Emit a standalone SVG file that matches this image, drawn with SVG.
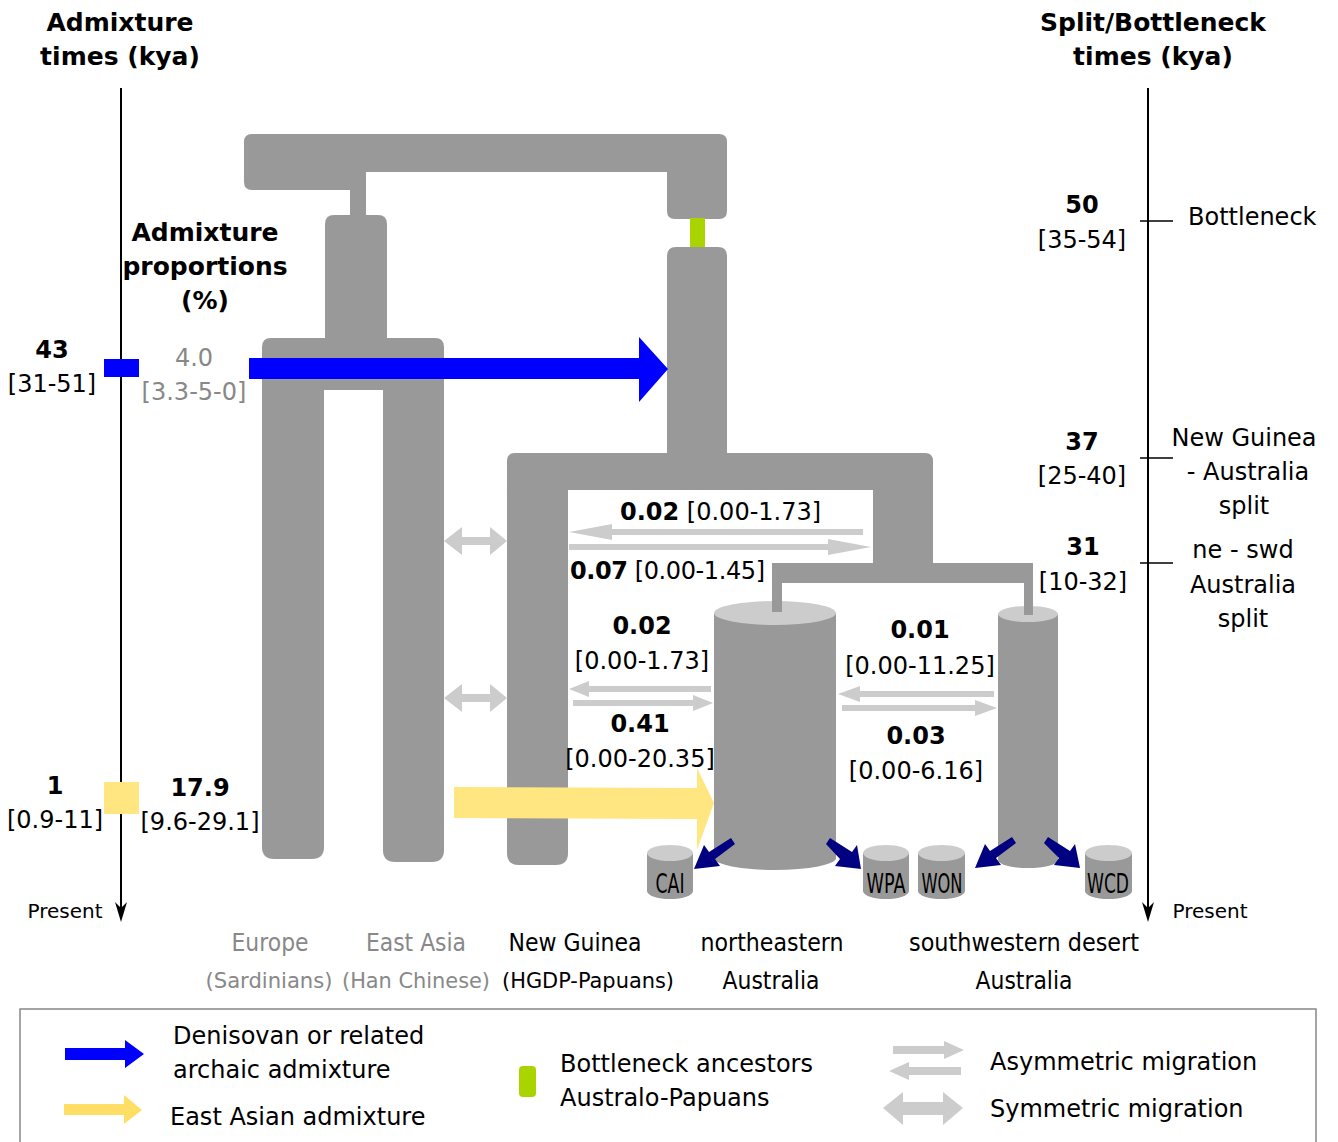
<svg xmlns="http://www.w3.org/2000/svg" width="1338" height="1142" viewBox="0 0 1338 1142">
<defs>
<style>
text{font-family:"DejaVu Sans","Liberation Sans",sans-serif;fill:#000}
.t{font-size:25px;font-weight:bold;text-anchor:middle}
.b{font-size:24px;font-weight:bold;text-anchor:middle}
.r{font-size:24px;text-anchor:middle}
.s{font-size:24px}
.g{fill:#888888}
.lab{font-size:25px;text-anchor:middle}
.lab2{font-size:21px;text-anchor:middle}
.cyl{font-size:27px;text-anchor:middle}
.pop{fill:#999999}
.cap{fill:#cccccc}
.mig{fill:#cccccc}
.nav{fill:#000080}
.axis{stroke:#000;stroke-width:2;fill:none}
.tick{stroke:#000;stroke-width:1.5}
</style>
</defs>
<rect width="1338" height="1142" fill="#fff"/>

<!-- axes -->
<g id="axes">
<line class="axis" x1="121" y1="88" x2="121" y2="918"/>
<path d="M115,902 L121,922 L127,902 L121,908 Z" fill="#000"/>
<line class="axis" x1="1148" y1="88" x2="1148" y2="918"/>
<path d="M1142,902 L1148,922 L1154,902 L1148,908 Z" fill="#000"/>
<line class="tick" x1="1140" y1="221" x2="1173" y2="221"/>
<line class="tick" x1="1140" y1="458" x2="1173" y2="458"/>
<line class="tick" x1="1140" y1="563" x2="1173" y2="563"/>
<text class="t" x="120" y="31">Admixture</text>
<text class="t" x="120" y="65">times (kya)</text>
<text class="t" x="1153" y="31">Split/Bottleneck</text>
<text class="t" x="1153" y="65">times (kya)</text>
<text class="t" x="205" y="241">Admixture</text>
<text class="t" x="205" y="275">proportions</text>
<text class="t" x="205" y="309">(%)</text>
<text style="font-size:20px;text-anchor:middle" x="65" y="918">Present</text>
<text style="font-size:20px;text-anchor:middle" x="1210" y="918">Present</text>
<text class="b" x="52" y="358">43</text>
<text class="r" x="52" y="392">[31-51]</text>
<text class="r g" x="194" y="366">4.0</text>
<text class="r g" x="194" y="400">[3.3-5-0]</text>
<text class="b" x="55" y="794">1</text>
<text class="r" x="55" y="828">[0.9-11]</text>
<text class="b" x="200" y="796">17.9</text>
<text class="r" x="200" y="830">[9.6-29.1]</text>
<text class="b" x="1082" y="213">50</text>
<text class="r" x="1082" y="248">[35-54]</text>
<text class="s" x="1188" y="225">Bottleneck</text>
<text class="b" x="1082" y="450">37</text>
<text class="r" x="1082" y="484">[25-40]</text>
<text class="r" x="1244" y="446">New Guinea</text>
<text class="r" x="1248" y="480">- Australia</text>
<text class="r" x="1244" y="514">split</text>
<text class="b" x="1083" y="555">31</text>
<text class="r" x="1083" y="590">[10-32]</text>
<text class="r" x="1243" y="558">ne - swd</text>
<text class="r" x="1243" y="593">Australia</text>
<text class="r" x="1243" y="627">split</text>
<rect x="104" y="359" width="35" height="18" fill="#0000ff"/>
<rect x="104" y="782" width="35" height="32" fill="#ffe680"/>
</g>

<!-- ancestral populations -->
<g id="ancestor-root">
<path class="pop" d="M252,134 H719 Q727,134 727,142 V211 Q727,219 719,219 H675 Q667,219 667,211 V172 H366 V215 H350 V190 H252 Q244,190 244,182 V142 Q244,134 252,134 Z"/>
</g>
<g id="bottleneck">
<rect x="690" y="218" width="15" height="30" fill="#aad400"/>
</g>
<g id="australo-papuan-ancestor">
<path class="pop" d="M667,256 Q667,247 676,247 H718 Q727,247 727,256 V460 H667 Z"/>
</g>
<g id="eurasian-ancestor">
<path class="pop" d="M325,224 Q325,215 334,215 H378 Q387,215 387,224 V340 H325 Z"/>
<path class="pop" d="M262,347 Q262,338 271,338 H435 Q444,338 444,347 V390 H262 Z"/>
</g>
<g id="europe">
<path class="pop" d="M262,385 H324 V847 Q324,859 312,859 H274 Q262,859 262,847 Z"/>
<text class="lab g" x="270" y="951" textLength="77" lengthAdjust="spacingAndGlyphs">Europe</text>
<text class="lab2 g" x="269" y="988" textLength="127" lengthAdjust="spacingAndGlyphs">(Sardinians)</text>
</g>
<g id="east-asia">
<path class="pop" d="M383,385 H444 V850 Q444,862 432,862 H395 Q383,862 383,850 Z"/>
<text class="lab g" x="416" y="951" textLength="100" lengthAdjust="spacingAndGlyphs">East Asia</text>
<text class="lab2 g" x="416" y="988" textLength="148" lengthAdjust="spacingAndGlyphs">(Han Chinese)</text>
</g>
<g id="ng-australia-ancestor">
<path class="pop" d="M507,461 Q507,453 515,453 H925 Q933,453 933,461 V583 H873 V490 H568 V500 H507 Z"/>
<rect class="pop" x="772" y="563" width="261" height="20"/>
</g>
<g id="new-guinea">
<path class="pop" d="M507,495 Q507,486 516,486 H568 V853 Q568,865 556,865 H519 Q507,865 507,853 Z"/>
<text class="lab" x="575" y="951" textLength="133" lengthAdjust="spacingAndGlyphs">New Guinea</text>
<text class="lab2" x="588" y="988" textLength="172" lengthAdjust="spacingAndGlyphs">(HGDP-Papuans)</text>
</g>
<g id="ne-australia">
<rect class="pop" x="714" y="613" width="122" height="245"/>
<ellipse class="pop" cx="775" cy="858" rx="61" ry="12"/>
<ellipse class="cap" cx="775" cy="613" rx="61" ry="12"/>
<rect class="pop" x="772" y="578" width="10" height="34"/>
<text class="lab" x="772" y="951" textLength="143" lengthAdjust="spacingAndGlyphs">northeastern</text>
<text class="lab" x="771" y="989" textLength="97" lengthAdjust="spacingAndGlyphs">Australia</text>
</g>
<g id="swd-australia">
<rect class="pop" x="998" y="614" width="60" height="246"/>
<ellipse class="pop" cx="1028" cy="860" rx="30" ry="8"/>
<ellipse class="cap" cx="1028" cy="614" rx="30" ry="8"/>
<rect class="pop" x="1024" y="578" width="9" height="37"/>
<text class="lab" x="1024" y="951" textLength="230" lengthAdjust="spacingAndGlyphs">southwestern desert</text>
<text class="lab" x="1024" y="989" textLength="97" lengthAdjust="spacingAndGlyphs">Australia</text>
</g>
<g id="cai">
<rect class="pop" x="647" y="853" width="46" height="38"/>
<ellipse class="pop" cx="670" cy="891" rx="23" ry="8"/>
<ellipse class="cap" cx="670" cy="853" rx="23" ry="8"/>
<text class="cyl" x="670" y="893" textLength="29" lengthAdjust="spacingAndGlyphs">CAI</text>
</g>
<g id="wpa">
<rect class="pop" x="863" y="853" width="46" height="38"/>
<ellipse class="pop" cx="886" cy="891" rx="23" ry="8"/>
<ellipse class="cap" cx="886" cy="853" rx="23" ry="8"/>
<text class="cyl" x="886" y="893" textLength="39" lengthAdjust="spacingAndGlyphs">WPA</text>
</g>
<g id="won">
<rect class="pop" x="918" y="853" width="47" height="38"/>
<ellipse class="pop" cx="941.5" cy="891" rx="23.5" ry="8"/>
<ellipse class="cap" cx="941.5" cy="853" rx="23.5" ry="8"/>
<text class="cyl" x="942" y="893" textLength="41" lengthAdjust="spacingAndGlyphs">WON</text>
</g>
<g id="wcd">
<rect class="pop" x="1085" y="853" width="47" height="38"/>
<ellipse class="pop" cx="1108.5" cy="891" rx="23.5" ry="8"/>
<ellipse class="cap" cx="1108.5" cy="853" rx="23.5" ry="8"/>
<text class="cyl" x="1108" y="893" textLength="42" lengthAdjust="spacingAndGlyphs">WCD</text>
</g>

<!-- connectors -->
<g id="connectors">
<polygon fill="#0000ff" points="249,358 639,358 639,337 668,369 639,402 639,379 249,379"/>
<polygon fill="#ffe680" points="454,787 697,788 697,768 714,803 697,850 697,819 454,818"/>
<polygon class="mig" points="444,541 462,527 462,537 490,537 490,527 507,541 490,555 490,545 462,545 462,555"/>
<polygon class="mig" points="444,698 462,684 462,694 490,694 490,684 507,698 490,712 490,702 462,702 462,712"/>
<polygon class="mig" points="569,532 612,524 612,529 863,529 863,535 612,535 612,540"/>
<polygon class="mig" points="871,547 828,539 828,544 569,544 569,550 828,550 828,555"/>
<polygon class="mig" points="569,689 589,681 589,686 711,686 711,692 589,692 589,697"/>
<polygon class="mig" points="713,703 693,695 693,700 573,700 573,706 693,706 693,711"/>
<polygon class="mig" points="838,694 860,686 860,691 994,691 994,697 860,697 860,702"/>
<polygon class="mig" points="997,708 975,700 975,705 842,705 842,711 975,711 975,716"/>
<g class="nav">
<polygon points="735,844 731,838 709,852 704,845 694,869 720,866 715,859"/>
<polygon points="826,844 830,838 852,852 857,845 861,869 835,866 840,859"/>
<polygon points="1016,843 1012,837 990,851 985,844 975,868 1001,865 996,858"/>
<polygon points="1044,843 1048,837 1070,851 1075,844 1080,868 1054,865 1059,858"/>
</g>
<text class="s" x="620" y="520"><tspan font-weight="bold">0.02</tspan> [0.00-1.73]</text>
<text class="s" x="570" y="579" textLength="195"><tspan font-weight="bold">0.07</tspan> [0.00-1.45]</text>
<text class="b" x="642" y="634">0.02</text>
<text class="r" x="642" y="669">[0.00-1.73]</text>
<text class="b" x="640" y="732">0.41</text>
<text class="r" x="640" y="767">[0.00-20.35]</text>
<text class="b" x="920" y="638">0.01</text>
<text class="r" x="920" y="674">[0.00-11.25]</text>
<text class="b" x="916" y="744">0.03</text>
<text class="r" x="916" y="779">[0.00-6.16]</text>
</g>

<!-- legend -->
<g id="legend">
<path d="M20,1142 V1009 H1316 V1142" fill="none" stroke="#888" stroke-width="1.5"/>
<polygon fill="#0000ff" points="65,1048 125,1048 125,1040 144,1054 125,1068 125,1060 65,1060"/>
<polygon fill="#ffd84a" fill-opacity="0.85" points="64,1104 124,1104 124,1095 142,1110 124,1124 124,1115 64,1115"/>
<rect x="519" y="1066" width="17" height="31" rx="4" fill="#aad400"/>
<polygon class="mig" points="964,1050 944,1041 944,1046 893,1046 893,1054 944,1054 944,1059"/>
<polygon class="mig" points="889,1071 909,1062 909,1067 961,1067 961,1075 909,1075 909,1080"/>
<polygon class="mig" points="883,1108 903,1092 903,1102 943,1102 943,1092 963,1108 943,1125 943,1115 903,1115 903,1125"/>
<text class="s" x="173" y="1044">Denisovan or related</text>
<text class="s" x="173" y="1078">archaic admixture</text>
<text class="s" x="170" y="1125">East Asian admixture</text>
<text class="s" x="560" y="1072">Bottleneck ancestors</text>
<text class="s" x="560" y="1106">Australo-Papuans</text>
<text class="s" x="990" y="1070">Asymmetric migration</text>
<text class="s" x="990" y="1117">Symmetric migration</text>
</g>
</svg>
